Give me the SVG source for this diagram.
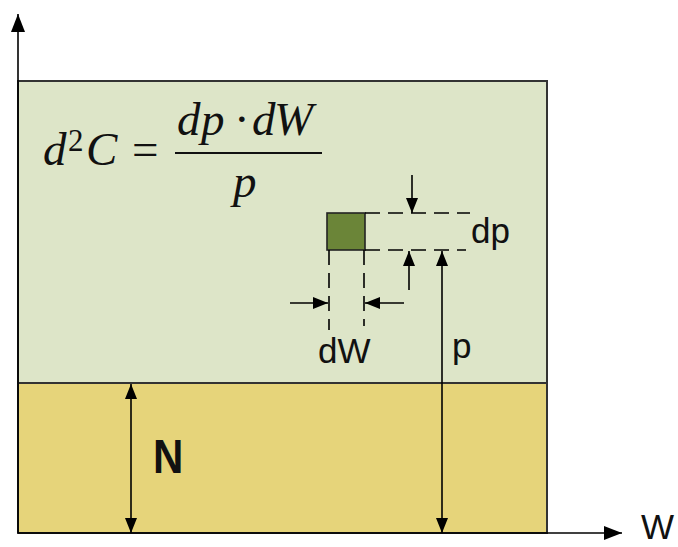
<svg xmlns="http://www.w3.org/2000/svg" width="678" height="547" viewBox="0 0 678 547">
<style>
.ln{stroke:#000;stroke-width:1.6;fill:none}
.dash{stroke:#000;stroke-width:1.6;fill:none;stroke-dasharray:15,8}
.box{stroke:#333;stroke-width:2}
.math{font-family:"Liberation Serif","Times New Roman",serif;font-style:italic;font-size:47px;fill:#111}
.up{font-family:"Liberation Serif","Times New Roman",serif;fill:#111}
.lbl{font-family:"Liberation Sans",Arial,sans-serif;font-size:35px;fill:#111}
</style>
<defs>
<marker id="ah" viewBox="0 0 15 12" refX="15" refY="6" markerWidth="15" markerHeight="12" markerUnits="userSpaceOnUse" orient="auto-start-reverse">
<path d="M0,0 L15,6 L0,12 Z" fill="#000"/>
</marker>
<marker id="ax" viewBox="0 0 18 14" refX="18" refY="7" markerWidth="18" markerHeight="14" markerUnits="userSpaceOnUse" orient="auto">
<path d="M0,0 L18,7 L0,14 Z" fill="#000"/>
</marker>
</defs>
<rect width="678" height="547" fill="#fff"/>
<g id="region-upper">
<rect x="18" y="81" width="529" height="302" fill="#dde5c8" class="box"/>
</g>
<g id="region-lower">
<rect x="18" y="383" width="529" height="150" fill="#e6d47a" class="box"/>
</g>
<g id="formula">
<text class="math" x="43" y="165">d</text>
<text class="up" x="68" y="151" font-size="31">2</text>
<text class="math" x="86" y="165">C</text>
<text class="up" x="132" y="165" font-size="47">=</text>
<text class="math" x="177" y="135">d</text>
<text class="math" x="201" y="135">p</text>
<text class="up" x="234" y="135" font-size="47">·</text>
<text class="math" x="252" y="135">d</text>
<text class="math" x="274" y="135">W</text>
<line x1="175" y1="153" x2="322" y2="153" stroke="#111" stroke-width="2"/>
<text class="math" x="233" y="197">p</text>
</g>
<g id="element">
<rect x="327" y="213" width="38" height="37" fill="#6b8538" stroke="#222" stroke-width="1.6"/>
</g>
<g id="connectors">
<line class="ln" x1="18" y1="533" x2="18" y2="14" marker-end="url(#ax)"/>
<line class="ln" x1="18" y1="533" x2="622" y2="533" marker-end="url(#ax)"/>
<line class="dash" x1="365" y1="213" x2="470" y2="213"/>
<line class="dash" x1="365" y1="250" x2="466" y2="250"/>
<line class="dash" x1="329" y1="250" x2="329" y2="330"/>
<line class="dash" x1="364" y1="250" x2="364" y2="326"/>
<line class="ln" x1="412" y1="175" x2="412" y2="213" marker-end="url(#ah)"/>
<line class="ln" x1="409" y1="290" x2="409" y2="251" marker-end="url(#ah)"/>
<line class="ln" x1="290" y1="303" x2="328" y2="303" marker-end="url(#ah)"/>
<line class="ln" x1="404" y1="303" x2="365" y2="303" marker-end="url(#ah)"/>
<line class="ln" x1="442" y1="251" x2="442" y2="533" marker-start="url(#ah)" marker-end="url(#ah)"/>
<line class="ln" x1="131" y1="384" x2="131" y2="533" marker-start="url(#ah)" marker-end="url(#ah)"/>
</g>
<g id="labels">
<text class="lbl" x="471" y="243">dp</text>
<text class="lbl" x="318" y="363">dW</text>
<text class="lbl" x="452" y="358">p</text>
<text class="lbl" x="641" y="539" font-size="33">W</text>
<text x="153" y="473" font-family="'Liberation Sans',Arial,sans-serif" font-weight="bold" font-size="42" fill="#111" transform="translate(153 473) scale(1 1.16) translate(-153 -473)">N</text>
</g>
</svg>
